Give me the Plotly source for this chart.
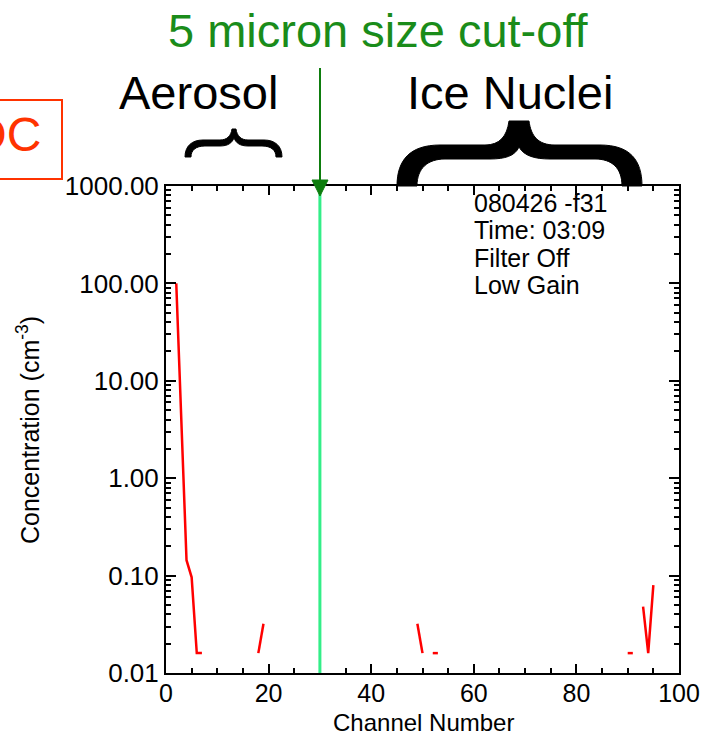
import plotly.graph_objects as go

# Particle concentration per channel (cm^-3); channels with zero counts are not plotted
channels = [2, 3, 4, 5, 6, 7, 18, 19, 49, 50, 52, 53, 90, 91, 93, 94, 95]
concentration = [100.0, 3.8, 0.144, 0.096, 0.016, 0.016, 0.016, 0.032,
                 0.032, 0.016, 0.016, 0.016, 0.016, 0.016, 0.048, 0.016, 0.08]

cutoff_channel = 30
x_ticks = [0, 20, 40, 60, 80, 100]
y_ticks = [0.01, 0.1, 1, 10, 100, 1000]
y_ticktext = ["0.01", "0.10", "1.00", "10.00", "100.00", "1000.00"]
info_lines = ["080426 -f31", "Time: 03:09", "Filter Off", "Low Gain"]

# Full channel grid with gaps where nothing was counted
lookup = dict(zip(channels, concentration))
grid_x = list(range(0, 101))
grid_y = [lookup.get(c) for c in grid_x]

FONT = "Liberation Sans, Arial, Helvetica, sans-serif"
WIDTH, HEIGHT = 716, 741
L, R, T, B = 166, 679, 186, 673          # plot area in pixels
PW, PH = R - L, B - T


def px(x):
    return (x - L) / PW


def py(y):
    return (B - y) / PH


def path(cmds):
    out = []
    for c in cmds:
        if isinstance(c, str):
            out.append(c)
        else:
            out.append(f"{px(c[0]):.5f},{py(c[1]):.5f}")
    return " ".join(out)


fig = go.Figure()
fig.add_trace(go.Scatter(
    x=grid_x, y=grid_y, mode="lines", connectgaps=False,
    line=dict(color="#FF0000", width=2.5), showlegend=False, hoverinfo="skip",
))

shapes = []
# 5 micron cut-off line
shapes.append(dict(type="line", xref="x", yref="paper", x0=cutoff_channel, x1=cutoff_channel,
                   y0=0, y1=1, line=dict(color="#33EE88", width=3), layer="above"))
# Arrow down onto the cut-off
shapes.append(dict(type="line", xref="paper", yref="paper", x0=px(320), x1=px(320),
                   y0=py(68), y1=py(182), line=dict(color="#0E7D0E", width=2)))
shapes.append(dict(type="path", xref="paper", yref="paper",
                   path=path(["M", (312, 180), "L", (328, 180), "L", (320, 196), "Z"]),
                   fillcolor="#0E7D0E", line=dict(color="#0E7D0E", width=1)))

# Small brace under "Aerosol"
aero = ["M", (185, 157), "C", (185, 146), (192, 140), (203, 140), "L", (220, 140),
        "C", (227, 140), (231, 136), (232, 129), "L", (236, 129),
        "C", (237, 136), (241, 140), (248, 140), "L", (264, 140),
        "C", (275, 140), (282, 146), (282, 157), "L", (276, 157),
        "C", (276, 150), (271, 146), (262, 146), "L", (248, 146),
        "C", (240, 146), (236, 143), (234, 138),
        "C", (232, 143), (228, 146), (220, 146), "L", (205, 146),
        "C", (196, 146), (191, 150), (191, 157), "Z"]
shapes.append(dict(type="path", xref="paper", yref="paper", path=path(aero),
                   fillcolor="black", line=dict(color="black", width=1)))

# Large brace under "Ice Nuclei"
ice = ["M", (397, 186), "C", (397, 160), (410, 145), (440, 145), "L", (485, 145),
       "C", (500, 145), (507, 136), (509, 121), "L", (529, 121),
       "C", (531, 136), (538, 145), (555, 145), "L", (600, 145),
       "C", (630, 145), (642, 160), (642, 186), "L", (622, 186),
       "C", (622, 168), (612, 159), (595, 159), "L", (550, 159),
       "C", (535, 159), (524, 156), (519, 147),
       "C", (515, 156), (505, 159), (490, 159), "L", (445, 159),
       "C", (428, 159), (417, 168), (417, 186), "Z"]
shapes.append(dict(type="path", xref="paper", yref="paper", path=path(ice),
                   fillcolor="black", line=dict(color="black", width=1)))

# Instrument label box
shapes.append(dict(type="rect", xref="paper", yref="paper", x0=px(-20), x1=px(62),
                   y0=py(179), y1=py(100), line=dict(color="#FF3300", width=2)))

annotations = [
    dict(text="5 micron size cut-off", x=px(378), y=py(31), font=dict(size=47, color="#1A8C1A")),
    dict(text="Aerosol", x=px(198), y=py(93), font=dict(size=47, color="black")),
    dict(text="Ice Nuclei", x=px(510), y=py(93), font=dict(size=47, color="black")),
    dict(text="DC", x=px(43), y=py(135), xanchor="right", font=dict(size=48, color="#FF3300")),
    dict(text="Channel Number", x=px(423), y=py(722), font=dict(size=24, color="black")),
    dict(text="Concentration (cm<sup>-3</sup>)", x=px(28), y=py(430), textangle=-90,
         font=dict(size=25, color="black")),
]
for i, line in enumerate(info_lines):
    annotations.append(dict(text=line, x=px(472), y=py(203 + 27.3 * i), xanchor="left",
                            font=dict(size=25, color="black")))
for a in annotations:
    a.update(xref="paper", yref="paper", showarrow=False)
    a.setdefault("xanchor", "center")
    a.setdefault("yanchor", "middle")
    a["font"]["family"] = FONT

fig.update_layout(
    width=WIDTH, height=HEIGHT,
    margin=dict(l=L, r=WIDTH - R, t=T, b=HEIGHT - B, pad=0),
    paper_bgcolor="white", plot_bgcolor="white",
    font=dict(family=FONT, size=25, color="black"),
    shapes=shapes, annotations=annotations, showlegend=False,
)
fig.update_xaxes(
    range=[0, 100], tickmode="array", tickvals=x_ticks, ticks="inside", ticklen=9, tickwidth=2,
    tickcolor="black",
    showline=True, linewidth=2, linecolor="black", mirror="ticks",
    showgrid=False, zeroline=False, tickfont=dict(size=25), ticklabelstandoff=-3,
    minor=dict(ticks="inside", ticklen=5, tickwidth=2, tickcolor="black",
               tickmode="array", tickvals=[v for v in range(5, 100, 5) if v % 20]),
)
fig.update_yaxes(
    type="log", range=[-2, 3], tickvals=y_ticks, ticktext=y_ticktext,
    ticks="inside", ticklen=10, tickwidth=2, tickcolor="black",
    showline=True, linewidth=2, linecolor="black", mirror="ticks",
    showgrid=False, zeroline=False, tickfont=dict(size=26),
    minor=dict(ticks="inside", ticklen=5, tickwidth=2, tickcolor="black",
               tickvals=[k * 10 ** e for e in range(-2, 3) for k in range(2, 10)]),
)

fig.write_html("out.html")
